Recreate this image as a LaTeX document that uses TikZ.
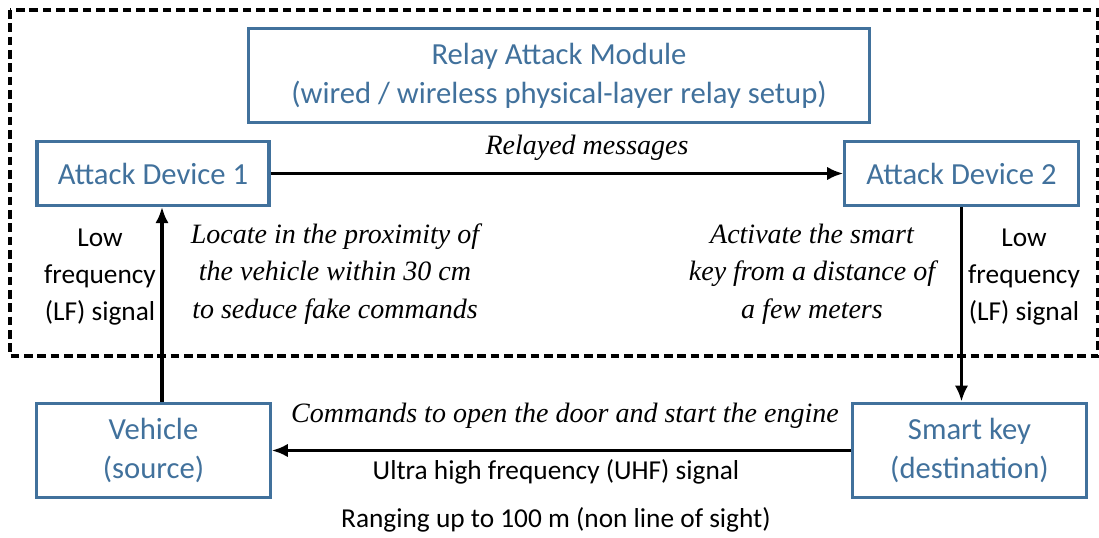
\documentclass[tikz,border=0pt]{standalone}
\usepackage{fontspec}
\setmainfont{Carlito}
\newfontfamily\capfont{Liberation Serif}
\usetikzlibrary{arrows.meta}
\definecolor{boxblue}{RGB}{65,113,156}
\tikzset{
  box/.style={draw=boxblue, line width=2.4pt, text=boxblue, align=center,
    inner sep=0pt, font=\fontsize{23}{29}\selectfont},
  lbl/.style={align=center, inner sep=0pt, font=\fontsize{20.5}{28}\selectfont},
  ilbl/.style={align=center, inner sep=0pt, font=\capfont\itshape\fontsize{21}{28}\selectfont},
  arr/.style={line width=2.3pt, -{Latex[length=12pt,width=10pt]}}
}
\begin{document}
\begin{tikzpicture}[x=0.75pt,y=-0.75pt]
  \useasboundingbox (0,0) rectangle (1099,538);
  % relay zone
  \draw[line width=2.4pt, dash pattern=on 6.5pt off 3.5pt] (10,10) rectangle (1098,356);
  \node[box, minimum width=466pt, minimum height=71pt] (relay) at (559,75.5)
    {Relay Attack Module\\(wired / wireless physical-layer relay setup)};
  \node[box, minimum width=174pt, minimum height=48pt] (dev1) at (153,173.5) {Attack Device 1};
  \node[box, minimum width=175pt, minimum height=48pt] (dev2) at (961.5,173.5) {Attack Device 2};
  \node[box, minimum width=175pt, minimum height=71pt] (vehicle) at (153.5,450.5) {Vehicle\\(source)};
  \node[box, minimum width=175pt, minimum height=71pt] (key) at (969.5,450.5) {Smart key\\(destination)};
  % labels
  \node[ilbl] (relayed) at (587,148) {Relayed messages};
  \node[lbl] (lfleft) at (100,277) {Low\\frequency\\(LF) signal};
  \node[ilbl] (locate) at (335,274) {Locate in the proximity of\\the vehicle within 30 cm\\to seduce fake commands};
  \node[ilbl] (activate) at (812,274) {Activate the smart\\key from a distance of\\a few meters};
  \node[lbl] (lfright) at (1024,277) {Low\\frequency\\(LF) signal};
  \node[ilbl] (commands) at (565,416) {Commands to open the door and start the engine};
  \node[lbl] (uhf) at (556,472) {Ultra high frequency (UHF) signal};
  \node[lbl] (ranging) at (556,520) {Ranging up to 100 m (non line of sight)};
  % links
  \draw[arr] (dev1) -- (dev2);
  \draw[arr] (vehicle.north -| 162,0) -- (dev1.south -| 162,0);
  \draw[arr] (dev2.south) -- (dev2.south |- key.north);
  \draw[arr] (key) -- (vehicle);
\end{tikzpicture}
\end{document}
